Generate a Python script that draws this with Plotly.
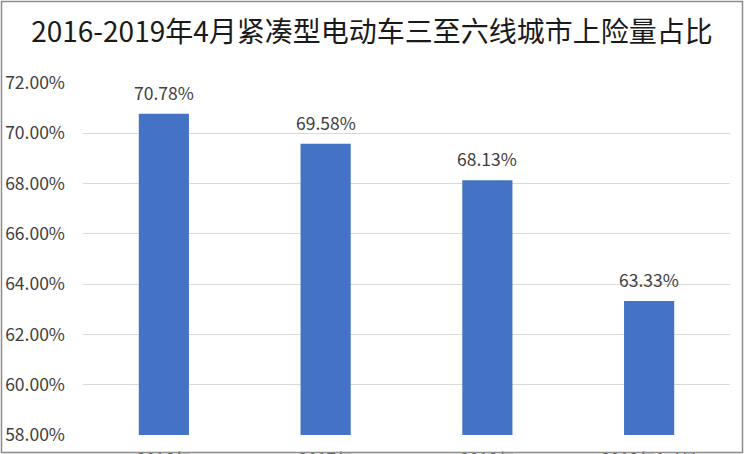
import plotly.graph_objects as go

# data
categories = ["2016年", "2017年", "2018年", "2019年1-4月"]
share_pct = [70.78, 69.58, 68.13, 63.33]
y_ticks = [58, 60, 62, 64, 66, 68, 70, 72]

W, H = 744, 454
ML, MR, MT, MB = 83, 14, 83, 19
FONT = "Noto Sans CJK SC, Noto Sans, sans-serif"

fig = go.Figure()
fig.add_trace(go.Bar(
    x=categories, y=share_pct,
    marker=dict(color="#4472C4", line=dict(width=0)),
    width=0.31,
    hoverinfo="skip",
))

# value labels sit ~10px above each bar
for c, v in zip(categories, share_pct):
    fig.add_annotation(x=c, y=v, text=f"{v:.2f}%", showarrow=False,
                       yanchor="bottom", yshift=7,
                       font=dict(size=17.5, color="#404040", family=FONT))

# thin frame around the whole chart area (paper coords from margins)
pw, ph = W - ML - MR, H - MT - MB
x0, x1 = (1.5 - ML) / pw, (W - 1.5 - ML) / pw
y0, y1 = -(MB - 1.5) / ph, (H - 1.5 - MB) / ph
fig.add_shape(type="rect", xref="paper", yref="paper",
              x0=x0, x1=x1, y0=y0, y1=y1,
              line=dict(color="#8c8c8c", width=1.5), layer="above")

fig.update_layout(
    width=W, height=H,
    margin=dict(l=ML, r=MR, t=MT, b=MB, autoexpand=False),
    paper_bgcolor="white", plot_bgcolor="white",
    font=dict(family=FONT, color="#404040"),
    title=dict(text="2016-2019年4月紧凑型电动车三至六线城市上险量占比",
               x=0.5, xref="container", xanchor="center",
               y=1 - 32 / H, yref="container", yanchor="middle",
               font=dict(size=28, color="#1a1a1a", family=FONT)),
    showlegend=False,
)
fig.update_xaxes(showgrid=False, showline=False, ticks="",
                 tickfont=dict(size=17, color="#595959"),
                 automargin=False, ticklabelstandoff=13)
fig.update_yaxes(range=[58, 72], tickvals=y_ticks,
                 ticktext=[f"{v:.2f}%" for v in y_ticks],
                 showgrid=True, gridcolor="#d9d9d9", gridwidth=1,
                 zeroline=False, showline=False, ticks="",
                 tickfont=dict(size=17.5, color="#404040"),
                 automargin=False, ticklabelstandoff=17)

fig.write_html("out.html", config={"displayModeBar": False},
               post_script="document.body.style.margin='0';"
                           "document.body.style.overflow='hidden';")
